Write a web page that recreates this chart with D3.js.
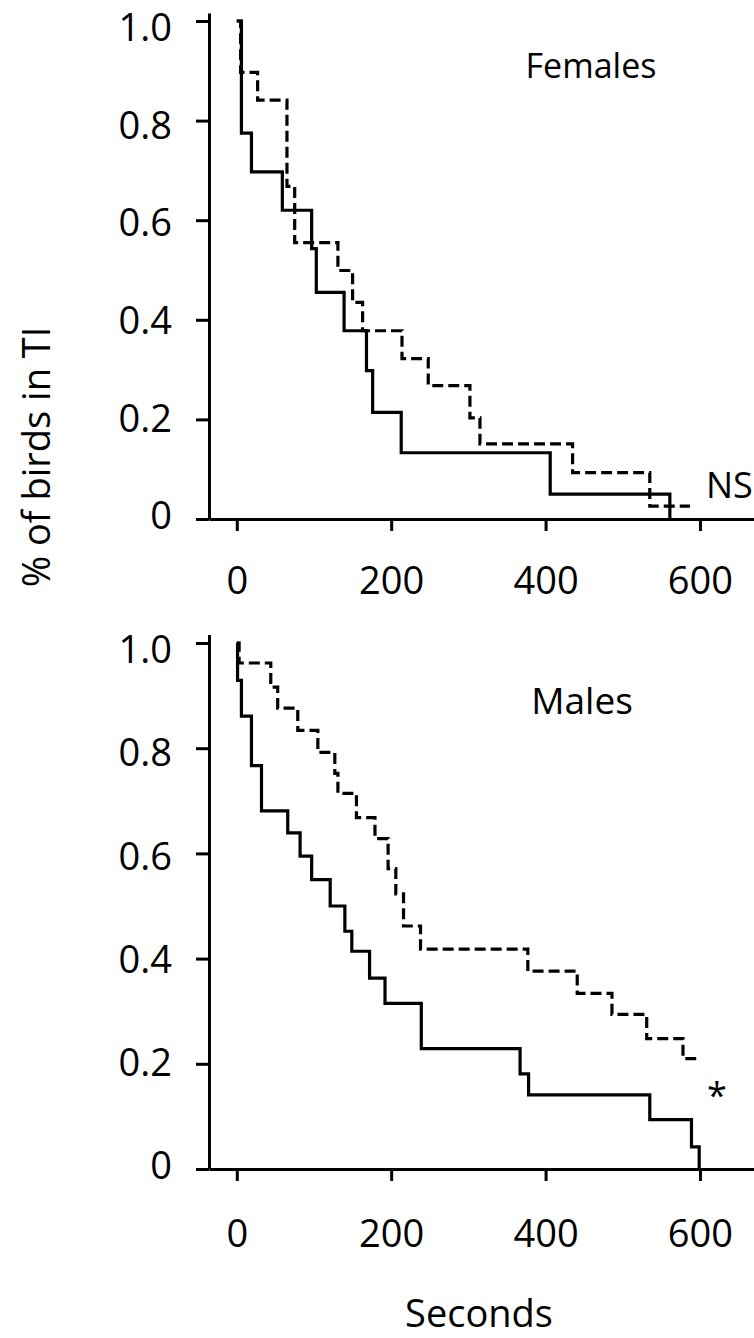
<!DOCTYPE html>
<html>
<head>
<meta charset="utf-8">
<script src="https://cdn.jsdelivr.net/npm/d3@7"></script>
<style>
  body { margin: 0; background: #fff; }
  text { font-family: "Open Sans", sans-serif; fill: #000; }
  .axis path, .axis line { stroke: #000; stroke-width: 3px; }
  .line { fill: none; stroke: #000; stroke-width: 3.2px; }
  .dash { stroke-dasharray: 11, 5; }
</style>
</head>
<body>
<div id="chart"></div>
<script>
// ticks
var xTicks = [0, 200, 400, 600];
var yTicks = [0, 0.2, 0.4, 0.6, 0.8, 1.0];

// Females, solid line
var femSolidT = [0, 6, 19, 59, 97, 103, 139, 168, 176, 213, 406, 561];
var femSolidP = [1.0, 0.775, 0.697, 0.620, 0.543, 0.455, 0.378, 0.298, 0.214, 0.133, 0.050, 0];
// Females, dashed line
var femDashT = [0, 5, 27, 65, 75, 131, 150, 163, 214, 248, 302, 315, 435, 535, 587];
var femDashP = [1.0, 0.897, 0.841, 0.668, 0.555, 0.499, 0.435, 0.378, 0.322, 0.268, 0.203, 0.151, 0.093, 0.026, 0.026];

// Males, solid line
var maleSolidT = [0, 1, 6, 19, 32, 66, 82, 97, 121, 140, 149, 172, 192, 239, 367, 378, 535, 589, 599];
var maleSolidP = [1.0, 0.929, 0.861, 0.767, 0.681, 0.639, 0.595, 0.550, 0.500, 0.452, 0.414, 0.363, 0.315, 0.229, 0.181, 0.141, 0.094, 0.042, 0];
// Males, dashed line
var maleDashT = [0, 3, 44, 53, 79, 105, 127, 131, 155, 179, 196, 206, 216, 238, 377, 441, 486, 531, 578, 597];
var maleDashP = [1.0, 0.962, 0.916, 0.876, 0.834, 0.792, 0.752, 0.714, 0.668, 0.628, 0.571, 0.523, 0.462, 0.418, 0.376, 0.334, 0.294, 0.248, 0.210, 0.210];

var width = 754, height = 1338;
var svg = d3.select("#chart").append("svg")
    .attr("width", width)
    .attr("height", height);

svg.append("rect").attr("width", width).attr("height", height).attr("fill", "#fff");

var x = d3.scaleLinear().domain([-36, 670]).range([209, 754]);

function zip(t, p) {
  return t.map(function(d, i) { return {t: d, p: p[i]}; });
}

function panel(y0, y1, labelPad, title, titleSize, titleX, titleY, mark, markSize, markX, markY, solid, dashed) {
  // y0 = pixel of 0, y1 = pixel of 1.0; axis runs a little above 1.0
  var y = d3.scaleLinear().domain([0, 1.016]).range([y0, y0 + 1.016 * (y1 - y0)]);

  var line = d3.line()
      .curve(d3.curveStepAfter)
      .x(function(d) { return x(d.t); })
      .y(function(d) { return y(d.p); });

  svg.append("path").datum(solid).attr("class", "line").attr("d", line);
  svg.append("path").datum(dashed).attr("class", "line dash").attr("d", line);

  svg.append("g")
      .attr("class", "axis")
      .attr("transform", "translate(209,0)")
      .call(d3.axisLeft(y).tickValues(yTicks).tickSize(13).tickSizeOuter(0).tickPadding(24)
        .tickFormat(function(d) { return d === 0 ? "0" : d3.format(".1f")(d); }))
      .call(function(g) {
        // labels sit a bit lower than their ticks toward the top
        g.selectAll("text").attr("font-size", 38)
          .attr("dy", function(d) { return (13.7 - 4 + d * 10) + "px"; })
          .style("font-family", "'Open Sans', sans-serif");
      });

  svg.append("g")
      .attr("class", "axis")
      .attr("transform", "translate(0," + y0 + ")")
      .call(d3.axisBottom(x).tickValues(xTicks).tickSize(12).tickSizeOuter(0).tickPadding(labelPad))
      .call(function(g) {
        g.selectAll("text").attr("font-size", 38)
          .style("font-family", "'Open Sans', sans-serif");
      });

  svg.append("text")
      .attr("x", titleX).attr("y", titleY)
      .attr("text-anchor", "middle")
      .attr("font-size", titleSize)
      .text(title);

  svg.append("text")
      .attr("x", markX).attr("y", markY)
      .attr("font-size", markSize)
      .text(mark);
}

panel(519, 21, 36, "Females", 34, 591, 78, "NS", 36, 706, 498,
      zip(femSolidT, femSolidP), zip(femDashT, femDashP));
panel(1169, 643, 39, "Males", 37, 582, 714, "*", 36, 707, 1108,
      zip(maleSolidT, maleSolidP), zip(maleDashT, maleDashP));

// axis titles
svg.append("text")
    .attr("transform", "translate(50,457) rotate(-90)")
    .attr("text-anchor", "middle")
    .attr("font-size", 38)
    .text("% of birds in TI");

svg.append("text")
    .attr("x", 479).attr("y", 1327)
    .attr("text-anchor", "middle")
    .attr("font-size", 38)
    .text("Seconds");
</script>
</body>
</html>
